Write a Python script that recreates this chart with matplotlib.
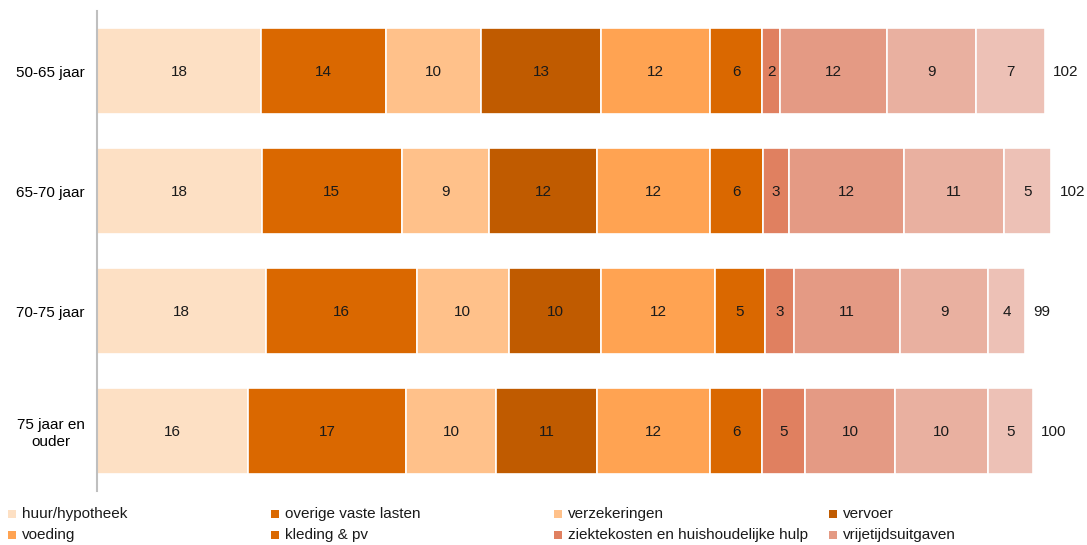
import matplotlib.pyplot as plt
from matplotlib.patches import Rectangle

plt.rcParams["font.family"] = ["Liberation Sans", "DejaVu Sans"]

age_groups = ["50-65 jaar", "65-70 jaar", "70-75 jaar", "75 jaar en\nouder"]

categories = [
    "huur/hypotheek", "overige vaste lasten", "verzekeringen", "vervoer",
    "voeding", "kleding & pv", "ziektekosten en huishoudelijke hulp",
    "vrijetijdsuitgaven", "overig 1", "overig 2",
]

# estimated shares per age group (bar widths), shown rounded in the labels
values = [
    [17.6, 13.4, 10.2, 12.9, 11.7, 5.6, 1.9, 11.5, 9.5, 7.4],
    [17.7, 15.0, 9.4, 11.6, 12.1, 5.7, 2.7, 12.4, 10.7, 5.1],
    [18.1, 16.2, 9.9, 9.9, 12.2, 5.4, 3.1, 11.4, 9.4, 4.0],
    [16.2, 17.0, 9.6, 10.9, 12.1, 5.6, 4.6, 9.6, 10.0, 4.8],
]
labels = [
    [18, 14, 10, 13, 12, 6, 2, 12, 9, 7],
    [18, 15, 9, 12, 12, 6, 3, 12, 11, 5],
    [18, 16, 10, 10, 12, 5, 3, 11, 9, 4],
    [16, 17, 10, 11, 12, 6, 5, 10, 10, 5],
]
totals = [102, 102, 99, 100]

colors = [
    "#FDE0C4", "#DA6800", "#FFC18A", "#C05B00", "#FFA352",
    "#DA6800", "#E08060", "#E49A84", "#E9B0A0", "#EDC1B6",
]

FS = 11

fig = plt.figure(figsize=(10.87, 5.45), dpi=100)
ax = fig.add_axes([97 / 1087, 54 / 545, 990 / 1087, 480 / 545])

for row, group in enumerate(age_groups):
    left = 0
    for i, v in enumerate(values[row]):
        ax.barh(row, v, left=left, height=0.72, color=colors[i],
                edgecolor="white", linewidth=1.2)
        ax.text(left + v / 2, row, str(labels[row][i]), ha="center",
                va="center_baseline", fontsize=FS, color="#1a1a1a")
        left += v
    ax.annotate(str(totals[row]), (left, row), xytext=(6, 0),
                textcoords="offset points", ha="left", va="center_baseline",
                fontsize=FS, color="#1a1a1a")

ax.set_xlim(0, 990 / 9.32)
ax.set_ylim(3.5, -0.5)
ax.set_yticks(range(len(age_groups)))
ax.set_yticklabels(age_groups, fontsize=FS, multialignment="center")
ax.tick_params(axis="y", length=0, pad=9)
ax.set_xticks([])
for side in ["top", "right", "bottom"]:
    ax.spines[side].set_visible(False)
ax.spines["left"].set_color("#BFBFBF")
ax.spines["left"].set_linewidth(1.5)

# legend drawn by hand (only first 8 entries visible, as in the original)
col_x = [12, 275, 558, 833]
row_y = [514, 535]
for k in range(8):
    r, c = divmod(k, 4)
    x = col_x[c] / 1087
    y = 1 - row_y[r] / 545
    fig.patches.append(Rectangle((x - 4 / 1087, y - 4 / 545), 8 / 1087, 8 / 545,
                                 transform=fig.transFigure,
                                 facecolor=colors[k], edgecolor="none"))
    fig.text(x + 10 / 1087, y, categories[k], ha="left", va="center",
             fontsize=FS, color="#1a1a1a")

fig.savefig("out.png", dpi=100)
